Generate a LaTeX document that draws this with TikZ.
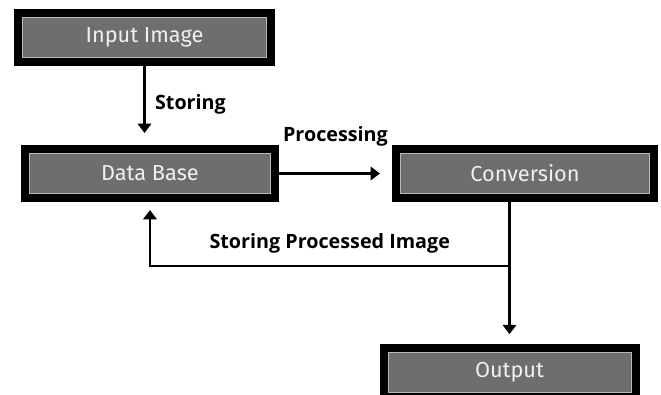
\documentclass[tikz,border=0pt]{standalone}
\usepackage{fontspec}
\usepackage{xcolor}
\usetikzlibrary{arrows.meta, positioning}
\setmainfont{Open Sans}
\newfontfamily\boxfont{Fira Sans}
\definecolor{boxgray}{HTML}{6E6E6E}
\definecolor{rimgray}{HTML}{B8B8B8}

\begin{document}
\begin{tikzpicture}[x=0.75pt, y=-0.75pt, node distance=100pt, on grid,
    block/.style={rectangle, draw=black, line width=6pt, fill=boxgray, text=white!94!black, minimum height=36.75pt, inner sep=0pt, font=\boxfont\fontsize{16.3}{19}\selectfont},
    rim/.style={draw=rimgray, line width=0.6pt},
    flow/.style={line width=2.2pt, -{Triangle[width=10pt, length=7pt]}},
    lbl/.style={font=\bfseries\fontsize{14.8}{18}\selectfont}]

    \useasboundingbox (0,0) rectangle (661,394);

    \node[block, minimum width=189.75pt] (In) at (144.5,37.5) {Input Image};
    \node[block, minimum width=187.5pt, below=102pt of In, xshift=4.1pt] (DB) {Data Base};
    \node[block, minimum width=193.5pt, right=281.25pt of DB] (Conv) {Conversion};
    \node[block, minimum width=189pt, below=148.9pt of Conv, xshift=-11.6pt] (Out) {Output};

    \foreach \n in {In, DB, Conv, Out}
        \draw[rim] ([shift={(6.3pt,-6.3pt)}]\n.north west) rectangle ([shift={(-6.3pt,6.3pt)}]\n.south east);

    \coordinate (fork) at (Out.north |- 0,266);

    \draw[flow, shorten >=9pt] (In.south) -- node[lbl, right=3.5pt, yshift=1pt] {Storing} (In.south |- DB.north);
    \draw[flow, shorten >=9pt] (DB.east) -- node[lbl, above=16pt] {Processing} (Conv.west);
    \draw[flow, shorten >=7pt] (Conv.south -| Out.north) -- (Out.north);
    \draw[flow, shorten >=6pt] (fork) -- node[lbl, above=5pt] {Storing Processed Image} (fork -| DB.south) -- (DB.south);

\end{tikzpicture}
\end{document}
